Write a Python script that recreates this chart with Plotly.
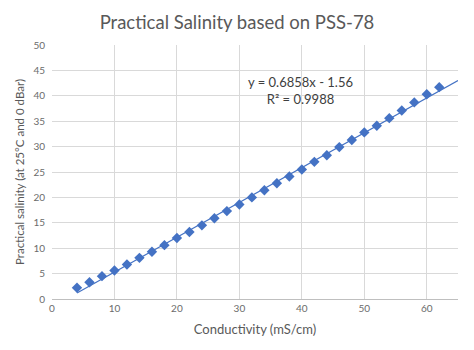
import plotly.graph_objects as go

conductivity = [4, 6, 8, 10, 12, 14, 16, 18, 20, 22, 24, 26, 28, 30, 32,
                34, 36, 38, 40, 42, 44, 46, 48, 50, 52, 54, 56, 58, 60, 62]
salinity = [2.2, 3.3, 4.5, 5.6, 6.8, 8.1, 9.3, 10.6, 12.0, 13.2, 14.5, 15.9,
            17.3, 18.6, 20.0, 21.4, 22.8, 24.1, 25.5, 27.0, 28.3, 29.9, 31.3,
            32.8, 34.1, 35.6, 37.1, 38.7, 40.3, 41.7]
slope = 0.6858
intercept = -1.56
trend_x = [4, 65]
trend_y = [slope * x + intercept for x in trend_x]
x_ticks = [0, 10, 20, 30, 40, 50, 60]
y_ticks = [0, 5, 10, 15, 20, 25, 30, 35, 40, 45, 50]

FONT = "Lato"
GREY = "#595959"

fig = go.Figure()
fig.add_trace(go.Scatter(x=trend_x, y=trend_y, mode="lines",
                         line=dict(color="#4472C4", width=1.2),
                         showlegend=False, hoverinfo="skip"))
fig.add_trace(go.Scatter(x=conductivity, y=salinity, mode="markers",
                         marker=dict(symbol="diamond", size=8, color="#4472C4"),
                         showlegend=False))

fig.add_annotation(text="y = 0.6858x - 1.56<br>R² = 0.9988",
                   x=0.612, y=0.895, xref="paper", yref="paper",
                   showarrow=False, align="center",
                   font=dict(family=FONT, size=13, color="#404040"))

fig.update_layout(
    width=474, height=350,
    margin=dict(l=52, r=16, t=45, b=51),
    paper_bgcolor="white", plot_bgcolor="white",
    title=dict(text="Practical Salinity based on PSS-78", x=0.5, xanchor="center",
               y=0.935, yanchor="middle",
               font=dict(family=FONT, size=18.5, color=GREY)),
    xaxis=dict(range=[0, 65], tickvals=x_ticks, showgrid=True, gridcolor="#d9d9d9",
               gridwidth=1, zeroline=False, showline=True, linecolor="#bfbfbf",
               ticks="", tickfont=dict(family=FONT, size=10, color="#6b6b6b"),
               title=dict(text="Conductivity (mS/cm)", standoff=11,
                          font=dict(family=FONT, size=13, color=GREY))),
    yaxis=dict(range=[0, 50], tickvals=y_ticks, showgrid=True, gridcolor="#d9d9d9",
               gridwidth=1, zeroline=False, showline=False, ticks="",
               ticklabelstandoff=6,
               tickfont=dict(family=FONT, size=10, color="#6b6b6b"),
               title=dict(text="Practical salinity (at 25°C and 0 dBar)", standoff=6,
                          font=dict(family=FONT, size=11.5, color=GREY))),
)

fig.write_html("out.html")
